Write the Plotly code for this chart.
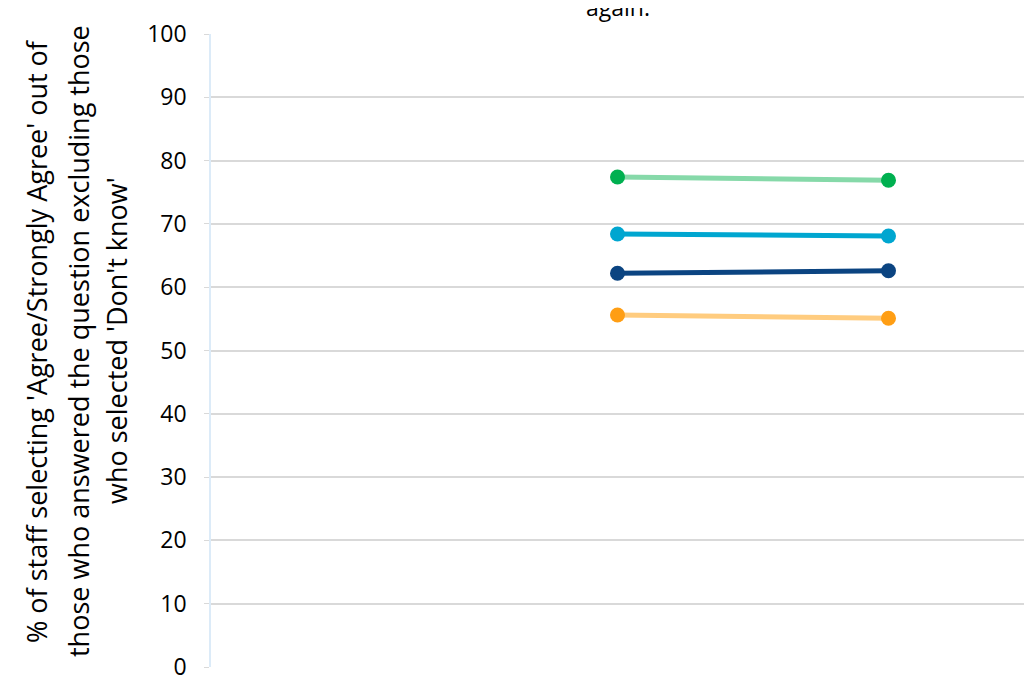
import plotly.graph_objects as go

categories = ["A", "B", "C"]
series_names = ["Series 1", "Series 2", "Series 3", "Series 4"]
green_vals = [None, 77.4, 76.9]
cyan_vals = [None, 68.4, 68.1]
navy_vals = [None, 62.2, 62.6]
orange_vals = [None, 55.6, 55.1]
y_ticks = [0, 10, 20, 30, 40, 50, 60, 70, 80, 90, 100]
title_text = "again."
ytitle_lines = [
    "% of staff selecting 'Agree/Strongly Agree' out of",
    "those who answered the question excluding those",
    "who selected 'Don't know'",
]

styles = [
    (green_vals, "#86D9A9", "#00B050"),
    (cyan_vals, "#00A6D0", "#00A6D0"),
    (navy_vals, "#0B4481", "#0B4481"),
    (orange_vals, "#FFCC7F", "#FF9E14"),
]

FONT = "Open Sans, Noto Sans, Liberation Sans, sans-serif"
L, R, T, B = 203, 19, 26, 16

fig = go.Figure()
for name, (vals, lc, mc) in zip(series_names, styles):
    fig.add_trace(go.Scatter(
        x=categories, y=vals, mode="lines+markers", name=name,
        line=dict(color=lc, width=5),
        marker=dict(color=mc, size=15),
        connectgaps=False, showlegend=False, cliponaxis=False,
    ))

fig.update_layout(
    width=1035, height=675,
    margin=dict(l=L, r=R, t=T, b=B, autoexpand=False),
    paper_bgcolor="white", plot_bgcolor="white",
    font=dict(family=FONT, color="#000000"),
    xaxis=dict(range=[-0.5, 2.5], showticklabels=False, showgrid=False,
               zeroline=False, showline=False, ticks=""),
    yaxis=dict(range=[0, 100], tickvals=y_ticks, showgrid=True,
               gridcolor="#D9D9D9", gridwidth=1.5, zeroline=False,
               showline=True, linecolor="#DCEBF8", linewidth=1.5,
               ticks="outside", ticklen=5, tickcolor="#D9D9D9",
               tickfont=dict(size=23, color="#000000", family=FONT),
               ticklabelstandoff=13),
)

fig.add_annotation(
    text=title_text, x=0.5, xref="paper", y=1.0, yref="paper",
    yanchor="middle", yshift=27, showarrow=False,
    font=dict(size=23, family=FONT, color="#000000"),
)

# y-axis title as three rotated lines
line_x = [28, 70, 108]
for txt, fx in zip(ytitle_lines, line_x):
    fig.add_annotation(
        text=txt, xref="paper", yref="paper", x=0, xshift=fx - L,
        y=0.515, xanchor="center", yanchor="middle",
        textangle=-90, showarrow=False,
        font=dict(size=27, color="#000000", family=FONT),
    )

fig.write_html("out.html")
